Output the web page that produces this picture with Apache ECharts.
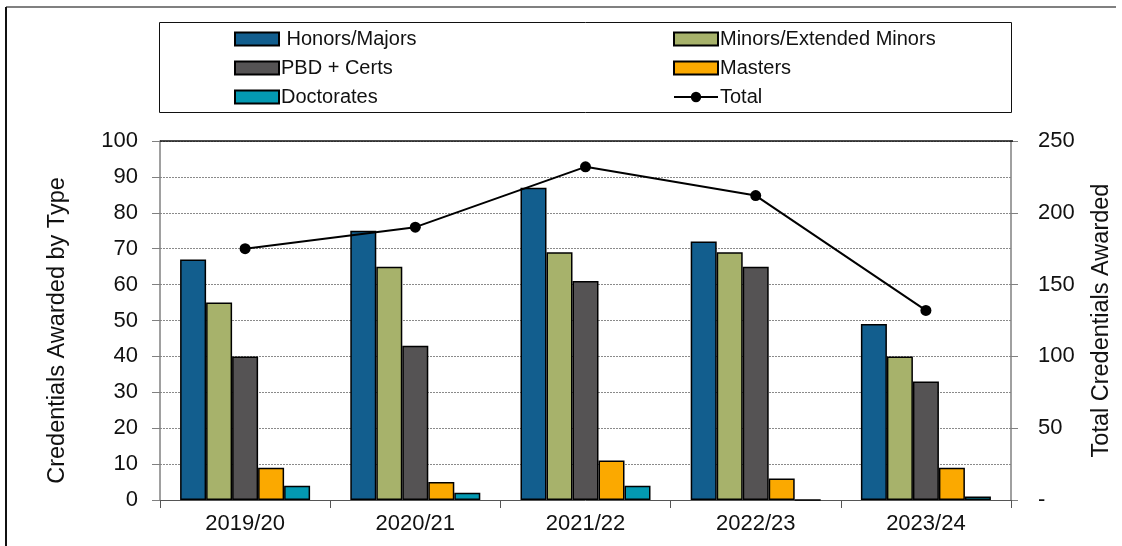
<!DOCTYPE html>
<html>
<head>
<meta charset="utf-8">
<script src="https://cdn.jsdelivr.net/npm/echarts@6/dist/echarts.min.js"></script>
<style>html,body{margin:0;padding:0;background:#fff}#c{width:1122px;height:546px}</style>
</head>
<body>
<div id="c"></div>
<script>
const categories = ['2019/20', '2020/21', '2021/22', '2022/23', '2023/24'];
const honorsMajors = [67, 75, 87, 72, 49];
const minorsExtended = [55, 65, 69, 69, 40];
const pbdCerts = [40, 43, 61, 65, 33];
const masters = [9, 5, 11, 6, 9];
const doctorates = [4, 2, 4, 0, 1];
const totals = [175, 190, 232, 212, 132];
const leftTicks = {min: 0, max: 100, interval: 10};
const rightTicks = {min: 0, max: 250, interval: 50};

const FONT = '"Liberation Sans", Arial, sans-serif';
const chart = echarts.init(document.getElementById('c'), null, {renderer: 'canvas'});

function bar(name, data, color) {
  return {
    name, type: 'bar', data, yAxisIndex: 0, barWidth: 26, barGap: '0%',
    itemStyle: {color, borderColor: '#000', borderWidth: 1.5},
    emphasis: {disabled: true}
  };
}

const legendText = {fontFamily: FONT, fontSize: 20, color: '#111', padding: [0, 0, 0, -3], lineHeight: 20};

chart.setOption({
  animation: false,
  textStyle: {fontFamily: FONT, color: '#111'},
  grid: {left: 160, right: 109, top: 141, bottom: 46, containLabel: false},
  legend: [
    {
      data: [{name: 'Honors/Majors', icon: 'rect'}, {name: 'PBD + Certs', icon: 'rect'}, {name: 'Doctorates', icon: 'rect'}],
      orient: 'vertical', left: 229, top: 24, itemWidth: 44, itemHeight: 13, itemGap: 9,
      textStyle: legendText,
      formatter: n => n === 'Honors/Majors' ? ' ' + n : n,
      selectedMode: false
    },
    {
      data: [{name: 'Minors/Extended Minors', icon: 'rect'}, {name: 'Masters', icon: 'rect'}, 'Total'],
      orient: 'vertical', left: 668, top: 24, itemWidth: 44, itemHeight: 13, itemGap: 9,
      textStyle: legendText,
      selectedMode: false
    }
  ],
  xAxis: {
    type: 'category', data: categories,
    axisLine: {lineStyle: {color: '#555', width: 1}},
    axisTick: {show: true, alignWithLabel: false, length: 8, lineStyle: {color: '#555'}},
    axisLabel: {fontSize: 22, color: '#111', margin: 13, fontFamily: FONT},
    splitLine: {show: false}
  },
  yAxis: [
    {
      type: 'value', min: leftTicks.min, max: leftTicks.max, interval: leftTicks.interval,
      name: 'Credentials Awarded by Type', nameLocation: 'middle', nameGap: 90, nameRotate: 90,
      nameTextStyle: {fontSize: 23.5, color: '#111', fontFamily: FONT, padding: [0, 0, 0, -20]},
      axisLine: {show: true, lineStyle: {color: '#808080', width: 1.5}},
      axisTick: {show: true, length: 8, lineStyle: {color: '#808080'}},
      axisLabel: {fontSize: 22, color: '#111', margin: 22, fontFamily: FONT},
      splitLine: {show: true, lineStyle: {color: '#8a8a8a', type: [2, 1], width: 1}}
    },
    {
      type: 'value', min: rightTicks.min, max: rightTicks.max, interval: rightTicks.interval,
      name: 'Total Credentials Awarded', nameLocation: 'middle', nameGap: 79, nameRotate: 90,
      nameTextStyle: {fontSize: 23.5, color: '#111', fontFamily: FONT},
      axisLine: {show: true, lineStyle: {color: '#808080', width: 1.5}},
      axisTick: {show: true, length: 7, lineStyle: {color: '#808080'}},
      axisLabel: {fontSize: 22, color: '#111', margin: 27, align: 'left', fontFamily: FONT,
        formatter: v => v === 0 ? '-' : String(v)},
      splitLine: {show: false}
    }
  ],
  series: [
    bar('Honors/Majors', honorsMajors, '#125E8E'),
    bar('Minors/Extended Minors', minorsExtended, '#A7B26B'),
    bar('PBD + Certs', pbdCerts, '#555354'),
    bar('Masters', masters, '#FBA900'),
    bar('Doctorates', doctorates, '#0399B2'),
    {
      name: 'Total', type: 'line', yAxisIndex: 1, data: totals,
      lineStyle: {color: '#000', width: 2}, itemStyle: {color: '#000'},
      symbol: 'circle', symbolSize: 11, z: 10, emphasis: {disabled: true}
    }
  ],
  graphic: [
    {type: 'line', shape: {x1: 6, y1: 7, x2: 1116, y2: 7}, style: {stroke: '#808080', lineWidth: 2}, silent: true},
    {type: 'line', shape: {x1: 6, y1: 7, x2: 6, y2: 546}, style: {stroke: '#111', lineWidth: 2}, silent: true},
    {type: 'rect', shape: {x: 159.5, y: 22.5, width: 852, height: 90}, style: {fill: 'none', stroke: '#111', lineWidth: 1}, silent: true, z: -1},
    {type: 'line', shape: {x1: 160, y1: 141, x2: 1013, y2: 141}, style: {stroke: '#111', lineWidth: 1.5}, silent: true, z: 5}
  ]
});
</script>
</body>
</html>
